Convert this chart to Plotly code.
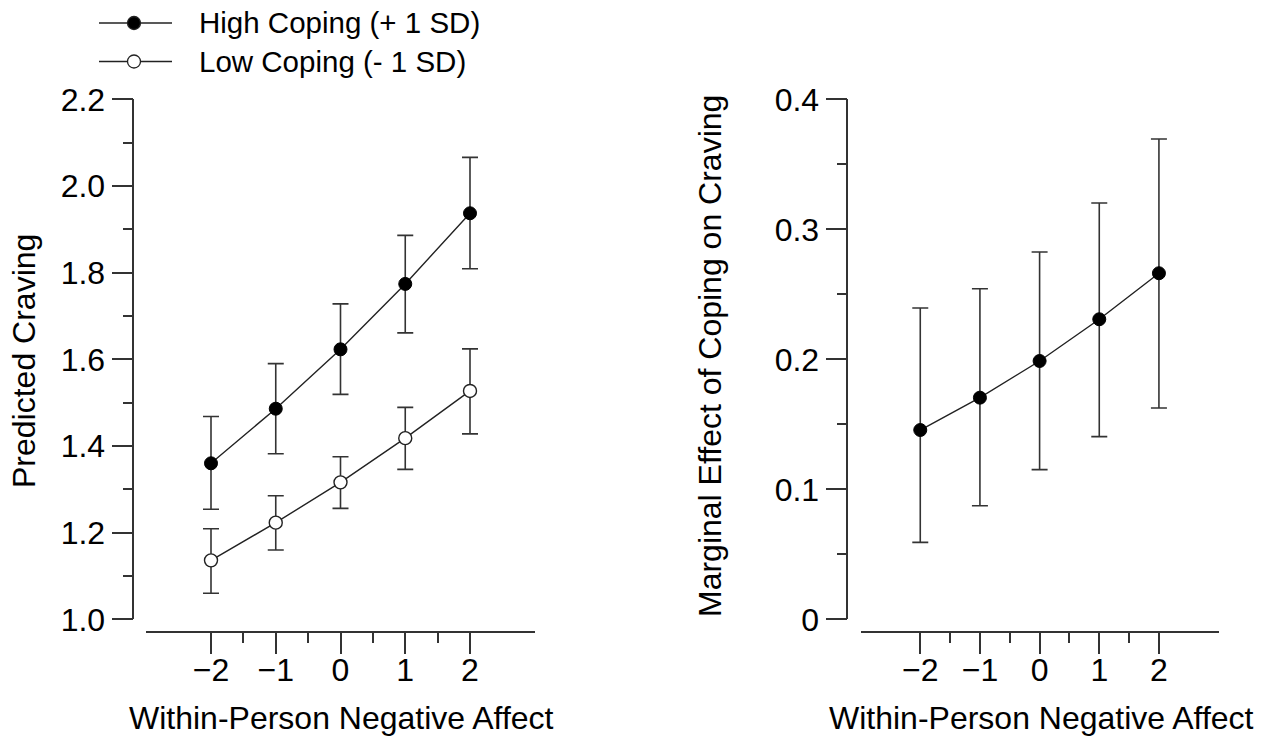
import plotly.graph_objects as go

# ---- data ----
x_vals = [-2, -1, 0, 1, 2]
x_ticks = [-2, -1, 0, 1, 2]
x_minor = [-1.5, -0.5, 0.5, 1.5]

high_mean = [1.360, 1.486, 1.623, 1.774, 1.937]
high_upper = [1.468, 1.590, 1.728, 1.886, 2.066]
high_lower = [1.254, 1.382, 1.519, 1.661, 1.809]

low_mean = [1.136, 1.223, 1.316, 1.418, 1.527]
low_upper = [1.209, 1.285, 1.375, 1.489, 1.624]
low_lower = [1.060, 1.160, 1.256, 1.346, 1.428]

marg_mean = [0.1456, 0.1705, 0.1987, 0.2308, 0.2662]
marg_upper = [0.2395, 0.2543, 0.2825, 0.3202, 0.3695]
marg_lower = [0.0592, 0.0874, 0.1151, 0.1405, 0.1625]

left_y_ticks = [1.0, 1.2, 1.4, 1.6, 1.8, 2.0, 2.2]
left_y_minor = [1.1, 1.3, 1.5, 1.7, 1.9, 2.1]
right_y_ticks = [0, 0.1, 0.2, 0.3, 0.4]
right_y_minor = [0.05, 0.15, 0.25, 0.35]

legend_labels = ["High Coping (+ 1 SD)", "Low Coping (- 1 SD)"]
x_title = "Within-Person Negative Affect"
y_title_left = "Predicted Craving"
y_title_right = "Marginal Effect of Coping on Craving"

# ---- layout helpers ----
W, H = 1272, 743
FONT = "Liberation Sans, Arial, Helvetica, sans-serif"
INK = "#222222"
AX = "#333333"


def px(xp):
    return xp / W


def py(yp):
    return 1 - yp / H


def err(mean, upper, lower):
    return dict(type="data", symmetric=False,
                array=[u - m for u, m in zip(upper, mean)],
                arrayminus=[m - l for m, l in zip(mean, lower)],
                color=AX, thickness=1.6, width=8)


fig = go.Figure()

fig.add_trace(go.Scatter(
    x=x_vals, y=high_mean, mode="lines+markers", name=legend_labels[0],
    line=dict(color=INK, width=1.4),
    marker=dict(symbol="circle", size=13, color="black", line=dict(color="black", width=1)),
    error_y=err(high_mean, high_upper, high_lower),
    xaxis="x", yaxis="y", showlegend=False, cliponaxis=False))

fig.add_trace(go.Scatter(
    x=x_vals, y=low_mean, mode="lines+markers", name=legend_labels[1],
    line=dict(color=INK, width=1.4),
    marker=dict(symbol="circle", size=13, color="white", line=dict(color=INK, width=1.4)),
    error_y=err(low_mean, low_upper, low_lower),
    xaxis="x", yaxis="y", showlegend=False, cliponaxis=False))

fig.add_trace(go.Scatter(
    x=x_vals, y=marg_mean, mode="lines+markers", name="Marginal effect",
    line=dict(color=INK, width=1.4),
    marker=dict(symbol="circle", size=13, color="black", line=dict(color="black", width=1)),
    error_y=err(marg_mean, marg_upper, marg_lower),
    xaxis="x2", yaxis="y2", showlegend=False, cliponaxis=False))

tickfont = dict(family=FONT, size=32, color="black")

xcommon = dict(range=[-3, 3], showline=True, linecolor=AX, linewidth=1.5,
               ticks="outside", ticklen=21, tickwidth=1.5, tickcolor=AX,
               tickmode="array", tickvals=x_ticks, showgrid=False, zeroline=False,
               tickfont=tickfont, anchor="free", position=py(632.3), automargin=False,
               ticklabelstandoff=-11,
               minor=dict(ticks="outside", ticklen=10, tickwidth=1.5, tickcolor=AX,
                          tickmode="array", tickvals=x_minor, showgrid=False))

ycommon = dict(showline=True, linecolor=AX, linewidth=1.5,
               ticks="outside", ticklen=21, tickwidth=1.5, tickcolor=AX,
               tickmode="array", showgrid=False, zeroline=False,
               tickfont=tickfont, anchor="free", automargin=False,
               domain=[py(619.3), py(99.3)])

fig.update_layout(
    width=W, height=H, margin=dict(l=0, r=0, t=0, b=0, pad=0, autoexpand=False),
    paper_bgcolor="white", plot_bgcolor="white",
    font=dict(family=FONT, color="black"),
    showlegend=False,
    xaxis=dict(domain=[px(146.25), px(534.75)], **xcommon),
    xaxis2=dict(domain=[px(860.6), px(1218.6)], **xcommon),
    yaxis=dict(range=[1.0, 2.2], tickvals=left_y_ticks, tickformat=".1f",
               position=px(133.3),
               minor=dict(ticks="outside", ticklen=10, tickwidth=1.5, tickcolor=AX,
                          tickmode="array", tickvals=left_y_minor, showgrid=False),
               **ycommon),
    yaxis2=dict(range=[0, 0.4], tickvals=right_y_ticks,
                position=px(847.3),
                minor=dict(ticks="outside", ticklen=10, tickwidth=1.5, tickcolor=AX,
                           tickmode="array", tickvals=right_y_minor, showgrid=False),
                **ycommon),
)

title_font = dict(family=FONT, size=32, color="black")
annotations = [
    dict(text=x_title, x=px(341), y=py(718), xref="paper", yref="paper",
         xanchor="center", yanchor="middle", showarrow=False, font=title_font),
    dict(text=x_title, x=px(1041), y=py(718), xref="paper", yref="paper",
         xanchor="center", yanchor="middle", showarrow=False, font=title_font),
    dict(text=y_title_left, x=px(24), y=py(361), xref="paper", yref="paper",
         xanchor="center", yanchor="middle", textangle=-90, showarrow=False, font=title_font),
    dict(text=y_title_right, x=px(710), y=py(356), xref="paper", yref="paper",
         xanchor="center", yanchor="middle", textangle=-90, showarrow=False, font=title_font),
]

# manual legend
legend_font = dict(family=FONT, size=29.5, color="black")
shapes = []
for i, (lab, fill) in enumerate(zip(legend_labels, ["black", "white"])):
    yy = 23 + 38.5 * i
    shapes.append(dict(type="line", xref="paper", yref="paper",
                       x0=px(99), x1=px(172), y0=py(yy), y1=py(yy),
                       line=dict(color=INK, width=1.4)))
    shapes.append(dict(type="circle", xref="paper", yref="paper",
                       xsizemode="pixel", ysizemode="pixel",
                       xanchor=px(134), yanchor=py(yy),
                       x0=-6.5, x1=6.5, y0=-6.5, y1=6.5,
                       fillcolor=fill, line=dict(color=INK, width=1.3)))
    annotations.append(dict(text=lab, x=px(197), y=py(yy), xref="paper", yref="paper",
                            xanchor="left", yanchor="middle", showarrow=False,
                            font=legend_font))

fig.update_layout(annotations=annotations, shapes=shapes)

# remove the page's default 8px body margin so the figure fills the window exactly
fig.write_html("out.html",
               config={"displayModeBar": False},
               post_script="document.body.style.margin='0';document.body.style.overflow='hidden';")
